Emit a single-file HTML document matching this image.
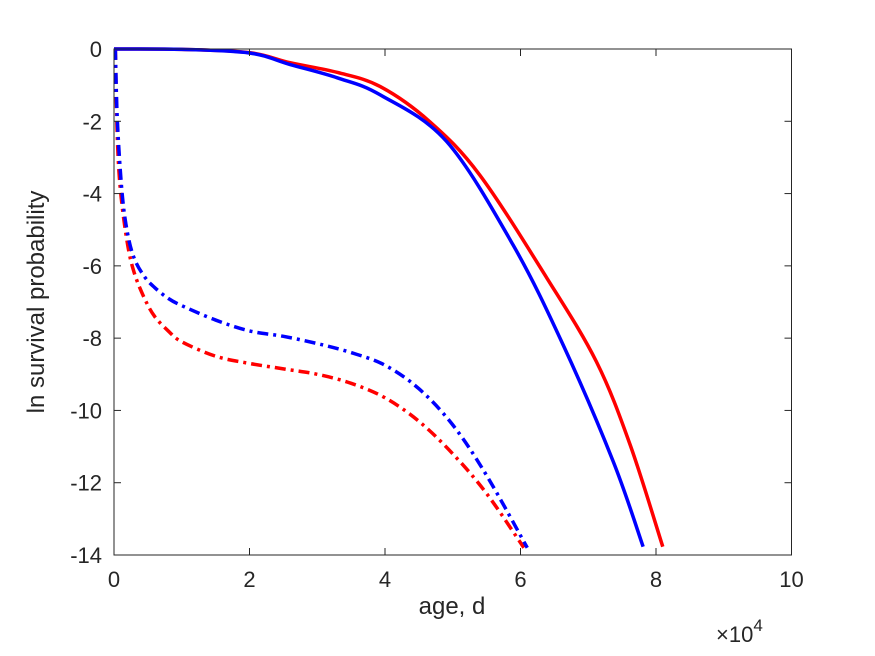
<!DOCTYPE html>
<html><head><meta charset="utf-8"><style>
body{margin:0;background:#fff}
svg{display:block;font-family:"Liberation Sans",sans-serif}
</style></head><body>
<svg id="chart" width="875" height="656">
<rect x="0" y="0" width="875" height="656" fill="#fff"/>
<g id="series"></g>
<rect x="114" y="49" width="677.5" height="506" fill="none" stroke="#262626" stroke-width="1"/>
<g id="ticks" fill="#262626" font-size="22"></g>
<text x="452" y="614" text-anchor="middle" font-size="24" fill="#262626">age, d</text>
<text x="716" y="642" font-size="22" fill="#262626">×10<tspan dy="-11" font-size="17">4</tspan></text>
<text transform="translate(44,302) rotate(-90)" text-anchor="middle" font-size="24" fill="#262626">ln survival probability</text>
</svg>
<script>
const xTicks=[0,2,4,6,8,10];
const yTicks=[0,-2,-4,-6,-8,-10,-12,-14];
const redSolidX=[0,1,2,2.6,3.3,3.93,4.66,5.4,6.39,7.12,7.62,8.1];
const redSolidY=[0,-0.01,-0.1,-0.38,-0.65,-1.04,-2.01,-3.49,-6.34,-8.65,-10.96,-13.77];
const blueSolidX=[0,1,2,2.6,3.3,3.93,4.91,5.89,6.63,7.37,7.81];
const blueSolidY=[0,-0.01,-0.11,-0.43,-0.8,-1.27,-2.56,-5.42,-8.19,-11.42,-13.77];
const redDashX=[0.02,0.05,0.1,0.2,0.3,0.45,0.6,0.8,1,1.5,2,2.5,3,3.5,4,4.5,5,5.5,6.05];
const redDashY=[0,-2.5,-4,-5.4,-6.2,-6.9,-7.4,-7.8,-8.1,-8.5,-8.7,-8.85,-9.0,-9.25,-9.65,-10.3,-11.2,-12.3,-13.8];
const blueDashX=[0.02,0.05,0.12,0.2,0.3,0.45,0.6,0.8,1,1.5,2,2.5,3,3.5,4,4.5,5,5.5,6.1];
const blueDashY=[0,-2,-4,-5.1,-5.8,-6.3,-6.6,-6.9,-7.1,-7.5,-7.8,-7.95,-8.15,-8.4,-8.75,-9.4,-10.4,-11.8,-13.8];
const NS='http://www.w3.org/2000/svg';
const X0=114,X1=791.5,Y0=49,Y1=555;
function sx(v){return X0+(v-0)/(10-0)*(X1-X0);}
function sy(v){return Y0+(0-v)/(0-(-14))*(Y1-Y0);}
const tg=document.getElementById('ticks');
xTicks.forEach(v=>{
 const l=document.createElementNS(NS,'line');
 l.setAttribute('x1',sx(v));l.setAttribute('x2',sx(v));l.setAttribute('y1',Y1);l.setAttribute('y2',Y1-7);l.setAttribute('stroke','#262626');
 
 
 tg.appendChild(l);
 const l2=document.createElementNS(NS,'line');
 l2.setAttribute('x1',sx(v));l2.setAttribute('x2',sx(v));l2.setAttribute('y1',Y0);l2.setAttribute('y2',Y0+7);l2.setAttribute('stroke','#262626');
 
 
 tg.appendChild(l2);
 const t=document.createElementNS(NS,'text');
 t.setAttribute('x',sx(v));t.setAttribute('y',Y1+32);t.setAttribute('text-anchor','middle');t.textContent=v;
 
 
 tg.appendChild(t);
});
yTicks.forEach(v=>{
 const l=document.createElementNS(NS,'line');
 l.setAttribute('x1',X0);l.setAttribute('x2',X0+7);l.setAttribute('y1',sy(v));l.setAttribute('y2',sy(v));l.setAttribute('stroke','#262626');
 
 
 tg.appendChild(l);
 const l2=document.createElementNS(NS,'line');
 l2.setAttribute('x1',X1);l2.setAttribute('x2',X1-7);l2.setAttribute('y1',sy(v));l2.setAttribute('y2',sy(v));l2.setAttribute('stroke','#262626');
 
 
 tg.appendChild(l2);
 const t=document.createElementNS(NS,'text');
 t.setAttribute('x',X0-12);t.setAttribute('y',sy(v)+8);t.setAttribute('text-anchor','end');t.textContent=v;
 
 
 tg.appendChild(t);
});
function smoothPath(xs,ys){
 const p=xs.map((x,i)=>[sx(x),sy(ys[i])]);
 let d='M'+p[0][0]+','+p[0][1];
 for(let i=0;i<p.length-1;i++){
  const a=p[Math.max(0,i-1)],b=p[i],c=p[i+1],e=p[Math.min(p.length-1,i+2)];
  const c1=[b[0]+(c[0]-a[0])/6,b[1]+(c[1]-a[1])/6],c2=[c[0]-(e[0]-b[0])/6,c[1]-(e[1]-b[1])/6];
  d+=' C'+c1+' '+c2+' '+c;
 }
 return d;
}
const sg=document.getElementById('series');
function addLine(xs,ys,color,dash,name){
 const p=document.createElementNS(NS,'path');
 p.setAttribute('d',smoothPath(xs,ys));p.setAttribute('fill','none');p.setAttribute('stroke',color);p.setAttribute('stroke-width','3.5');
 if(dash)p.setAttribute('stroke-dasharray',dash);
 
 
 sg.appendChild(p);
}
addLine(redDashX,redDashY,'#ff0000','11,5,3,5','red-dashdot-line');
addLine(blueDashX,blueDashY,'#0000ff','11,5,3,5','blue-dashdot-line');
addLine(redSolidX,redSolidY,'#ff0000',null,'red-solid-line');
addLine(blueSolidX,blueSolidY,'#0000ff',null,'blue-solid-line');
</script>
</body></html>
